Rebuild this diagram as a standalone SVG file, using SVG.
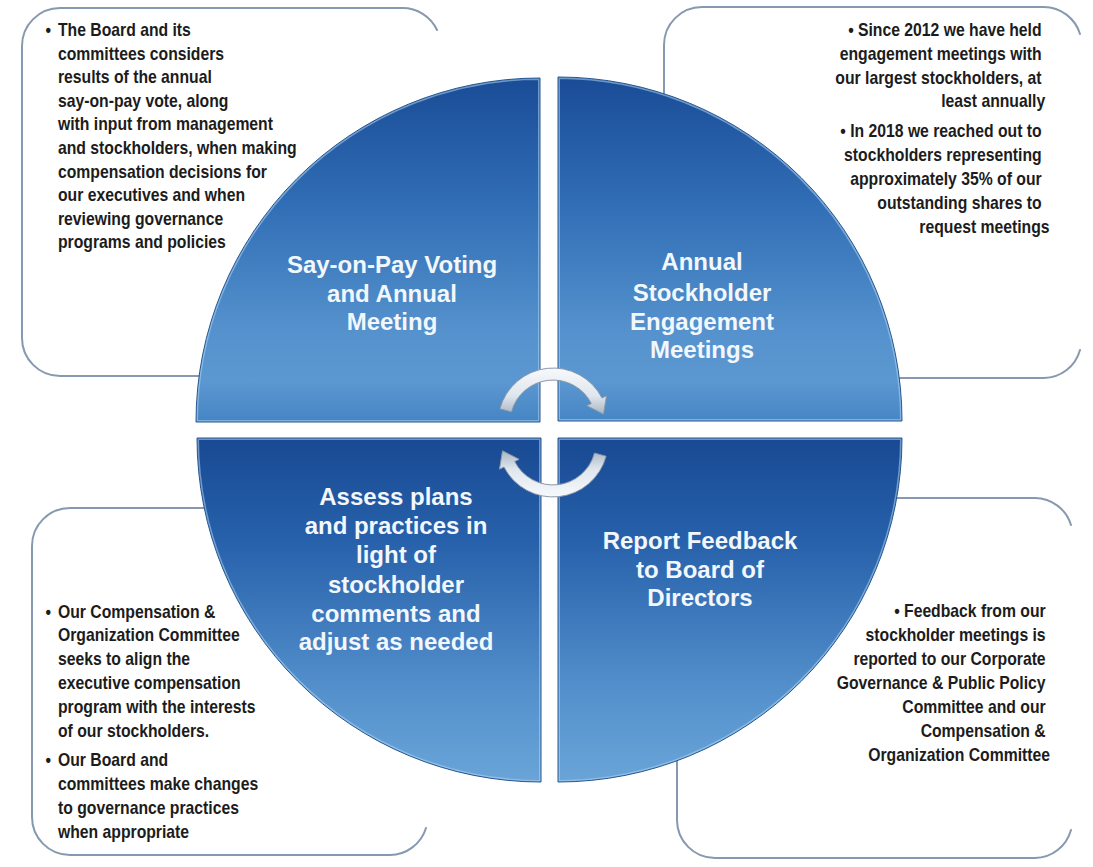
<svg xmlns="http://www.w3.org/2000/svg" width="1093" height="867" viewBox="0 0 1093 867">
<style>
.box{fill:#fff;stroke:none}
.edge{fill:none;stroke:#8799b0;stroke-width:2;stroke-linecap:round}
.co{font-family:"Liberation Sans",Arial,sans-serif;font-weight:bold;font-size:17.5px;fill:#1c1c1c}
.r{text-anchor:end}
.t{font-family:"Liberation Sans",Arial,sans-serif;font-weight:bold;font-size:24px;fill:#f2f7fc;text-anchor:middle}
.bev{stroke:#aed5f3;stroke-width:4;stroke-opacity:.55}
.out{fill:none;stroke:#24548f;stroke-width:1}
.arrow{fill:url(#ga);stroke:#8a98aa;stroke-width:1}
</style>
<defs>
<linearGradient id="gTop" gradientUnits="userSpaceOnUse" x1="0" y1="78" x2="0" y2="422">
<stop offset="0" stop-color="#1a4c96"/>
<stop offset="0.35" stop-color="#2f6cb4"/>
<stop offset="0.75" stop-color="#5693ce"/>
<stop offset="0.88" stop-color="#5b98d1"/>
<stop offset="1" stop-color="#4685c4"/>
</linearGradient>
<linearGradient id="gBot" gradientUnits="userSpaceOnUse" x1="0" y1="438" x2="0" y2="782">
<stop offset="0" stop-color="#194993"/>
<stop offset="0.3" stop-color="#2761ab"/>
<stop offset="0.75" stop-color="#5592cd"/>
<stop offset="1" stop-color="#6aa4d8"/>
</linearGradient>
<linearGradient id="ga" x1="0" y1="0" x2="0" y2="1">
<stop offset="0" stop-color="#f7f9fc"/>
<stop offset="0.6" stop-color="#dfe6ee"/>
<stop offset="1" stop-color="#aab6c4"/>
</linearGradient>
<clipPath id="cTL"><path d="M540,422 L540,78 A344,344 0 0 0 196,422 Z"/></clipPath>
<clipPath id="cTR"><path d="M558,421 L558,77 A344,344 0 0 1 902,421 Z"/></clipPath>
<clipPath id="cBL"><path d="M541,438 L197,438 A344,344 0 0 0 541,782 Z"/></clipPath>
<clipPath id="cBR"><path d="M558,438 L902,438 A344,344 0 0 1 558,782 Z"/></clipPath>
</defs>
<rect width="1093" height="867" fill="#fff"/>

<!-- callout boxes -->
<g id="box-tl">
<rect class="box" x="22" y="8" width="418" height="368" rx="38"/>
<path class="edge" d="M437,30 A38,38 0 0 0 402,8 L60,8 A38,38 0 0 0 22,46 L22,338 A38,38 0 0 0 60,376 L420,376"/>
<text class="co" transform="translate(5.8,0) scale(0.9,1)"><tspan x="44" y="36">•</tspan><tspan x="58" y="36">The Board and its</tspan>
<tspan x="58" y="59.6">committees considers</tspan>
<tspan x="58" y="83.2">results of the annual</tspan>
<tspan x="58" y="106.8">say-on-pay vote, along</tspan>
<tspan x="58" y="130.4">with input from management</tspan>
<tspan x="58" y="154">and stockholders, when making</tspan>
<tspan x="58" y="177.6">compensation decisions for</tspan>
<tspan x="58" y="201.2">our executives and when</tspan>
<tspan x="58" y="224.8">reviewing governance</tspan>
<tspan x="58" y="248.4">programs and policies</tspan></text>
</g>
<g id="box-tr">
<rect class="box" x="664" y="7" width="418" height="371" rx="38"/>
<path class="edge" d="M664,420 L664,45 A38,38 0 0 1 702,7 L1044,7 A38,38 0 0 1 1080,34"/>
<path class="edge" d="M1080,350 A38,38 0 0 1 1044,378 L620,378"/>
<text class="co r" transform="translate(104.6,0) scale(0.9,1)"><tspan x="1046" y="36">• Since 2012 we have held</tspan>
<tspan x="1046" y="60">engagement meetings with</tspan>
<tspan x="1046" y="84">our largest stockholders, at</tspan>
<tspan x="1050" y="107">least annually</tspan>
<tspan x="1046" y="137">• In 2018 we reached out to</tspan>
<tspan x="1046" y="161">stockholders representing</tspan>
<tspan x="1046" y="185">approximately 35% of our</tspan>
<tspan x="1046" y="209">outstanding shares to</tspan>
<tspan x="1050" y="233">request meetings</tspan></text>
</g>
<g id="box-bl">
<rect class="box" x="32" y="508" width="396" height="347" rx="38"/>
<path class="edge" d="M300,508 L70,508 A38,38 0 0 0 32,546 L32,817 A38,38 0 0 0 70,855 L390,855 A38,38 0 0 0 426,828"/>
<text class="co" transform="translate(5.8,0) scale(0.9,1)"><tspan x="44" y="618">•</tspan><tspan x="58" y="618">Our Compensation &amp;</tspan>
<tspan x="58" y="641.5">Organization Committee</tspan>
<tspan x="58" y="665.5">seeks to align the</tspan>
<tspan x="58" y="689.5">executive compensation</tspan>
<tspan x="58" y="713.5">program with the interests</tspan>
<tspan x="58" y="737.5">of our stockholders.</tspan>
<tspan x="44" y="766">•</tspan><tspan x="58" y="766">Our Board and</tspan>
<tspan x="58" y="790">committees make changes</tspan>
<tspan x="58" y="814">to governance practices</tspan>
<tspan x="58" y="838">when appropriate</tspan></text>
</g>
<g id="box-br">
<rect class="box" x="677" y="498" width="396" height="360" rx="38"/>
<path class="edge" d="M677,700 L677,820 A38,38 0 0 0 715,858 L1035,858 A38,38 0 0 0 1071,830"/>
<path class="edge" d="M820,498 L1035,498 A38,38 0 0 1 1071,525"/>
<text class="co r" transform="translate(105,0) scale(0.9,1)"><tspan x="1050" y="617">• Feedback from our</tspan>
<tspan x="1050" y="641">stockholder meetings is</tspan>
<tspan x="1050" y="665">reported to our Corporate</tspan>
<tspan x="1050" y="689">Governance &amp; Public Policy</tspan>
<tspan x="1050" y="713">Committee and our</tspan>
<tspan x="1050" y="737">Compensation &amp;</tspan>
<tspan x="1050" y="761">Organization Committee</tspan></text>
</g>

<!-- quadrants -->
<g id="q-tl">
<g clip-path="url(#cTL)"><path class="bev" d="M540,422 L540,78 A344,344 0 0 0 196,422 Z" fill="url(#gTop)"/></g>
<path class="out" d="M540,422 L540,78 A344,344 0 0 0 196,422 Z"/>
<text class="t"><tspan x="392" y="273">Say-on-Pay Voting</tspan><tspan x="392" y="302">and Annual</tspan><tspan x="392" y="330">Meeting</tspan></text>
</g>
<g id="q-tr">
<g clip-path="url(#cTR)"><path class="bev" d="M558,421 L558,77 A344,344 0 0 1 902,421 Z" fill="url(#gTop)"/></g>
<path class="out" d="M558,421 L558,77 A344,344 0 0 1 902,421 Z"/>
<text class="t"><tspan x="702" y="270">Annual</tspan><tspan x="702" y="301">Stockholder</tspan><tspan x="702" y="330">Engagement</tspan><tspan x="702" y="358">Meetings</tspan></text>
</g>
<g id="q-bl">
<g clip-path="url(#cBL)"><path class="bev" d="M541,438 L197,438 A344,344 0 0 0 541,782 Z" fill="url(#gBot)"/></g>
<path class="out" d="M541,438 L197,438 A344,344 0 0 0 541,782 Z"/>
<text class="t"><tspan x="396" y="505">Assess plans</tspan><tspan x="396" y="534">and practices in</tspan><tspan x="396" y="563">light of</tspan><tspan x="396" y="593">stockholder</tspan><tspan x="396" y="622">comments and</tspan><tspan x="396" y="650">adjust as needed</tspan></text>
</g>
<g id="q-br">
<g clip-path="url(#cBR)"><path class="bev" d="M558,438 L902,438 A344,344 0 0 1 558,782 Z" fill="url(#gBot)"/></g>
<path class="out" d="M558,438 L902,438 A344,344 0 0 1 558,782 Z"/>
<text class="t"><tspan x="700" y="549">Report Feedback</tspan><tspan x="700" y="578">to Board of</tspan><tspan x="700" y="606">Directors</tspan></text>
</g>

<!-- connectors: cycle arrows -->
<g id="connectors">
<path id="arrow-top" class="arrow" d="M499.9,408.8 A55,55 0 0 1 602.0,398.0 L606.5,395.8 L603.5,414.2 L586.9,405.7 L591.3,403.5 A43,43 0 0 0 511.5,411.9 Z"/>
<path id="arrow-bottom" class="arrow" transform="rotate(180 553 432.5)" d="M499.9,408.8 A55,55 0 0 1 602.0,398.0 L606.5,395.8 L603.5,414.2 L586.9,405.7 L591.3,403.5 A43,43 0 0 0 511.5,411.9 Z"/>
</g>
</svg>
